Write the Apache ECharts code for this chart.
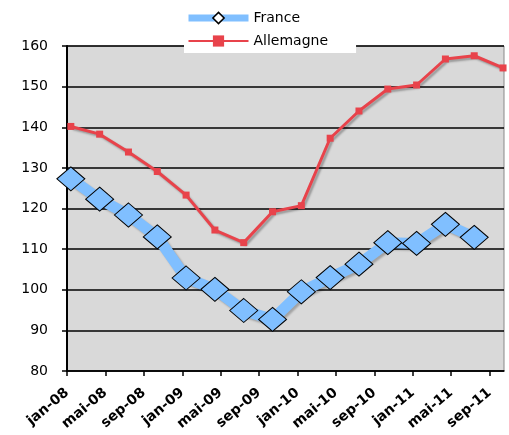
<!DOCTYPE html>
<html><head><meta charset="utf-8">
<script src="https://cdn.jsdelivr.net/npm/echarts@6/dist/echarts.min.js"></script>
<style>html,body{margin:0;padding:0;background:#fff}#c{width:509px;height:435px}</style>
</head><body><div id="c"></div>
<script>
// Quarterly observations, Jan 2008 .. Oct 2011 (month index from jan-08)
const quarterMonths = [0,3,6,9,12,15,18,21,24,27,30,33,36,39,42,45];
const france = [127.3,122.3,118.4,113.0,102.9,100.1,94.9,92.7,99.5,103.0,106.3,111.6,111.4,116.1,112.9];
const allemagne = [140.2,138.3,133.9,129.1,123.3,114.7,111.6,119.2,120.7,137.3,144.0,149.4,150.4,156.8,157.6,154.6];
const tickMonths = [0,4,8,12,16,20,24,28,32,36,40,44];
const tickLabels = ['jan-08','mai-08','sep-08','jan-09','mai-09','sep-09','jan-10','mai-10','sep-10','jan-11','mai-11','sep-11'];

const dayOffset = 0.4; // observations dated a little after the start of the month
const toPairs = arr => arr.map((v,i)=>[quarterMonths[i]+dayOffset, v]);
const font = 'DejaVu Sans';
const chart = echarts.init(document.getElementById('c'), null, {renderer:'canvas'});
chart.setOption({
  animation:false,
  backgroundColor:'#fff',
  legend:{
    orient:'vertical', left:184, top:8,
    backgroundColor:'#fff', padding:[3,28,5,1], itemGap:9,
    itemWidth:60, itemHeight:14,
    textStyle:{fontFamily:font, fontSize:14, color:'#000'},
    data:[
      {name:'France', lineStyle:{width:7}, itemStyle:{color:'#fff', borderColor:'#000', borderWidth:1.5}},
      {name:'Allemagne', lineStyle:{width:2}}
    ]
  },
  grid:{left:67, top:46, width:437, height:325, show:true, backgroundColor:'#d9d9d9', borderColor:'#888', borderWidth:1},
  xAxis:{
    type:'value', min:0, max:45.5,
    axisLine:{show:true, onZero:false, lineStyle:{color:'#000', width:1.5}},
    axisTick:{show:true, customValues:tickMonths, length:5, lineStyle:{color:'#000', width:1.5}},
    splitLine:{show:false},
    axisLabel:{customValues:tickMonths, rotate:40, margin:20,
      fontFamily:font, fontSize:14, fontWeight:'bold', color:'#000',
      formatter:v=>tickLabels[tickMonths.indexOf(Math.round(v))] || ''}
  },
  yAxis:{
    type:'value', min:80, max:160, interval:10,
    axisLine:{show:true, lineStyle:{color:'#000', width:2}},
    axisTick:{show:true, length:5, lineStyle:{color:'#000', width:1.5}},
    splitLine:{show:true, lineStyle:{color:'#000', width:1.5}},
    axisLabel:{fontFamily:font, fontSize:14, color:'#000', margin:19}
  },
  series:[
    {name:'France', type:'line', data:toPairs(france), z:3,
     symbol:'diamond', symbolSize:[28,24],
     lineStyle:{color:'#80bfff', width:11, shadowColor:'rgba(0,0,0,0.25)', shadowBlur:2, shadowOffsetX:2, shadowOffsetY:2},
     itemStyle:{color:'#80bfff', borderColor:'#000', borderWidth:1}},
    {name:'Allemagne', type:'line', data:toPairs(allemagne), z:4,
     symbol:'rect', symbolSize:7,
     lineStyle:{color:'#e8434b', width:3, shadowColor:'rgba(0,0,0,0.3)', shadowBlur:2, shadowOffsetX:2, shadowOffsetY:2},
     itemStyle:{color:'#e8434b', borderWidth:0}}
  ]
});
</script></body></html>
